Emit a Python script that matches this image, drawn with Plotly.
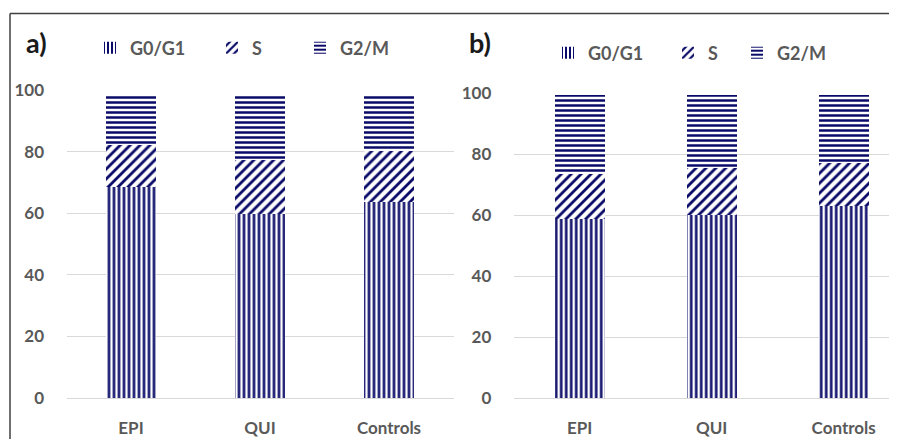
import plotly.graph_objects as go

categories = ["EPI", "QUI", "Controls"]
phases = ["G0/G1", "S", "G2/M"]

# Panel a values (%)
a_g0g1 = [68.4, 59.7, 63.7]
a_s = [13.7, 17.6, 16.6]
a_g2m = [16.0, 21.1, 18.1]

# Panel b values (%)
b_g0g1 = [58.6, 60.0, 63.0]
b_s = [14.7, 15.3, 14.0]
b_g2m = [26.0, 24.0, 22.3]

y_ticks = [0, 20, 40, 60, 80, 100]

NAVY = "#0a0a68"
GREY = "#595959"
FONT = "Lato"
shapes_pat = {"G0/G1": "|", "S": "/", "G2/M": "-"}
sizes_pat = {"G0/G1": 5, "S": 7, "G2/M": 5}
solid_pat = {"G0/G1": 0.5, "S": 0.4, "G2/M": 0.5}

W, H = 897, 439
OFF = 8  # page body margin: screen = figure + 8


def px(x):  # screen x -> paper
    return (x - OFF) / W


def py(y):  # screen y -> paper
    return 1 - (y - OFF) / H


fig = go.Figure()

legend_ids_a = ["legend", "legend2", "legend3"]
legend_ids_b = ["legend4", "legend5", "legend6"]


def add_panel(vals, xa, ya, legends):
    for name, v, lg in zip(phases, vals, legends):
        fig.add_trace(go.Bar(
            x=categories, y=v, name=name, xaxis=xa, yaxis=ya, legend=lg,
            width=0.38, showlegend=True,
            marker=dict(color="white", line=dict(width=0),
                        pattern=dict(shape=shapes_pat[name], fgcolor=NAVY, bgcolor="white",
                                     size=sizes_pat[name], solidity=solid_pat[name],
                                     fillmode="replace")),
        ))


add_panel([a_g0g1, a_s, a_g2m], "x", "y", legend_ids_a)
add_panel([b_g0g1, b_s, b_g2m], "x2", "y2", legend_ids_b)

tick_font = dict(family=FONT, size=17, color=GREY, weight="bold")
cat_font = dict(family=FONT, size=17, color=GREY, weight="bold")
leg_font = dict(family=FONT, size=18, color=GREY, weight="bold")

common_x = dict(type="category", showgrid=False, showline=False, zeroline=False,
                ticks="outside", ticklen=15, tickcolor="rgba(0,0,0,0)",
                tickfont=cat_font, automargin=False)
common_y = dict(range=[0, 100], tickvals=y_ticks, showgrid=True, gridcolor="#d9d9d9",
                gridwidth=1, zeroline=True, zerolinecolor="#d9d9d9", zerolinewidth=1,
                showline=False, ticks="outside", ticklen=18, tickcolor="rgba(0,0,0,0)",
                tickfont=tick_font, automargin=False)


def leg(text_start_x, center_y):
    return dict(orientation="h", x=px(text_start_x - 45), y=py(center_y),
                xanchor="left", yanchor="middle", itemwidth=30, visible=True,
                font=leg_font, bgcolor="rgba(0,0,0,0)", borderwidth=0)


# panel b: first category centre at screen 579.7, category pitch 132 px
b_start = 513.7
b_span_units = (W + OFF - b_start) / 132.0

fig.update_layout(
    width=W, height=H,
    margin=dict(l=0, r=0, t=0, b=0, autoexpand=False),
    paper_bgcolor="white", plot_bgcolor="white",
    barmode="stack",
    showlegend=True,
    font=dict(family=FONT, color=GREY),
    xaxis=dict(domain=[px(66.5), px(453.5)], range=[-0.5, 2.5], anchor="y", **common_x),
    yaxis=dict(domain=[py(398), py(90)], anchor="x", **common_y),
    xaxis2=dict(domain=[px(b_start), 1.0], range=[-0.5, -0.5 + b_span_units], anchor="y2", **common_x),
    yaxis2=dict(domain=[py(398), py(93)], anchor="x2", **common_y),
    legend=leg(135, 48),
    legend2=leg(257, 48),
    legend3=leg(345, 48),
    legend4=leg(593, 53),
    legend5=leg(713, 53),
    legend6=leg(782, 53),
    annotations=[
        dict(text="a)", x=px(24), y=py(42), xref="paper", yref="paper", showarrow=False,
             xanchor="left", yanchor="middle",
             font=dict(family=FONT, size=27, color="#1a1a1a", weight="bold")),
        dict(text="b)", x=px(467), y=py(42), xref="paper", yref="paper", showarrow=False,
             xanchor="left", yanchor="middle",
             font=dict(family=FONT, size=27, color="#1a1a1a", weight="bold")),
    ],
    shapes=[
        dict(type="line", xref="paper", yref="paper", x0=px(10), x1=1, y0=py(13.5), y1=py(13.5),
             line=dict(color="#404040", width=1.5)),
        dict(type="line", xref="paper", yref="paper", x0=px(10), x1=px(10), y0=py(13.5), y1=0,
             line=dict(color="#404040", width=1.5)),
    ],
)

fig.write_html("out.html")
